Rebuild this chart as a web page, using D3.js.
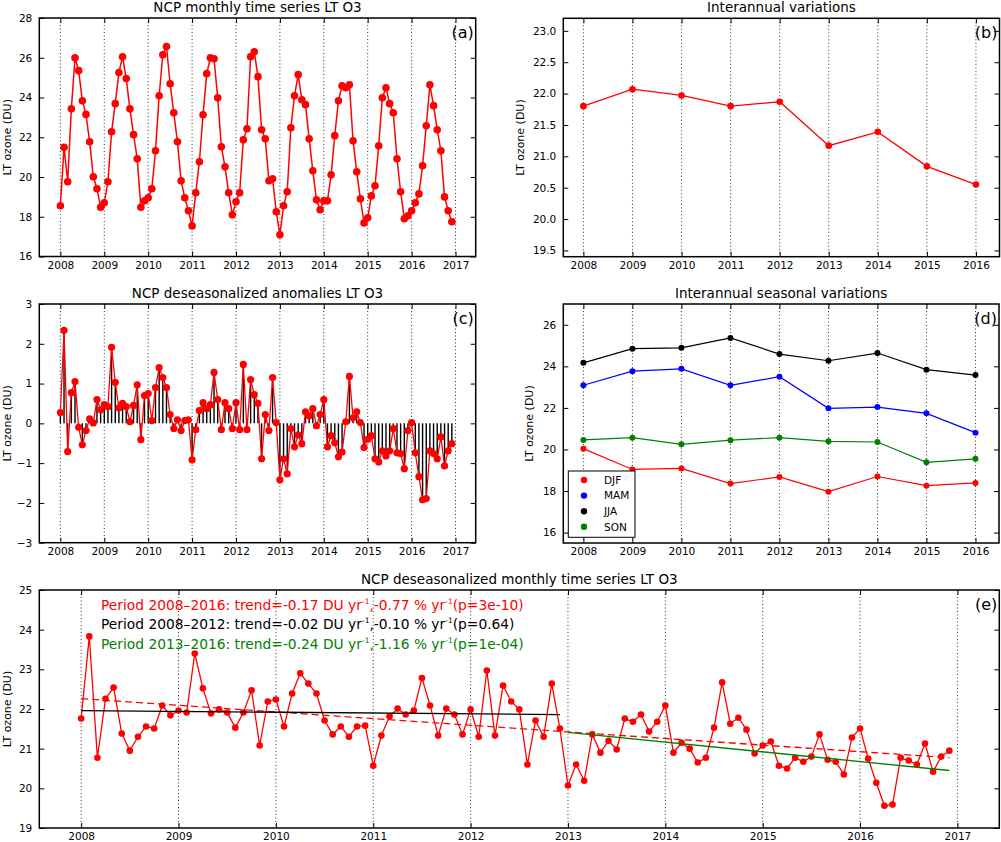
<!DOCTYPE html>
<html>
<head>
	<meta charset="utf-8">
	<title>NCP LT O3</title>
	<style type="text/css">
		html, body {
			margin: 0;
			padding: 0;
			background-color: #fff;
		}
		svg text {
			font-family: "DejaVu Sans", sans-serif;
			fill: #000;
		}
	</style>
</head>
<body>
	<div id="chart"></div>
	<script src="https://unpkg.com/d3@7.8.5/dist/d3.min.js"></script>
	<script type="text/javascript">
		// monthly LT ozone, Jan 2008 .. Dec 2016 (panel a)
		const monthlyLT = [
			18.55, 21.49, 19.76, 23.43, 26.00, 25.35, 23.84, 23.15, 21.77, 20.01, 19.41, 18.48,
			18.70, 19.76, 22.28, 23.69, 25.26, 26.05, 24.95, 23.43, 22.13, 20.92, 18.48, 18.80,
			18.95, 19.41, 21.32, 24.09, 26.15, 26.56, 24.69, 23.23, 21.77, 19.81, 18.95, 18.30,
			17.54, 19.21, 20.77, 23.13, 25.20, 26.00, 25.95, 23.99, 21.52, 20.51, 19.21, 18.10,
			18.75, 19.21, 21.87, 22.43, 26.05, 26.30, 25.05, 22.38, 21.92, 19.81, 19.91, 18.25,
			17.09, 18.55, 19.26, 22.48, 24.09, 25.15, 23.89, 23.64, 21.92, 20.31, 18.85, 18.35,
			18.80, 18.80, 20.11, 22.08, 23.84, 24.59, 24.49, 24.64, 21.82, 20.26, 18.90, 17.69,
			17.95, 19.05, 19.56, 21.57, 23.99, 24.49, 23.69, 23.23, 20.92, 19.26, 17.90, 18.05,
			18.30, 18.70, 19.15, 20.56, 22.58, 24.64, 23.59, 22.38, 21.32, 19.00, 18.30, 17.75
		];

		// deseasonalized anomalies (panel c)
		const anomalyLT = [
			0.27, 2.34, -0.71, 0.77, 1.05, -0.10, -0.54, -0.18, 0.11, 0.01, 0.60, 0.34,
			0.47, 0.42, 1.91, 1.03, 0.39, 0.50, 0.42, 0.04, 0.45, 0.97, -0.41, 0.70,
			0.75, 0.07, 0.90, 1.40, 1.15, 0.90, 0.22, -0.13, 0.09, -0.18, 0.07, 0.09,
			-0.92, -0.16, 0.32, 0.52, 0.37, 0.47, 1.28, 0.60, -0.16, 0.52, 0.37, -0.13,
			0.52, -0.16, 1.48, -0.16, 1.10, 0.72, 0.50, -0.89, 0.22, -0.18, 1.15, 0.02,
			-1.42, -0.89, -1.27, -0.13, -0.59, -0.29, -0.51, 0.29, 0.19, 0.37, -0.06, 0.22,
			0.60, -0.59, -0.31, -0.49, -0.84, -0.72, 0.04, 1.18, 0.14, 0.29, 0.02, -0.61,
			-0.40, -0.31, -0.89, -0.97, -0.69, -0.82, -0.69, -0.13, -0.74, -0.76, -1.14, -0.18,
			0.02, -0.74, -1.34, -1.92, -1.89, -0.69, -0.76, -0.89, -0.34, -1.07, -0.69, -0.51
		];

		// deseasonalized monthly series (panel e)
		const deseasonLT = [
			21.76, 23.83, 20.77, 22.26, 22.54, 21.38, 20.95, 21.30, 21.56, 21.51, 22.09, 21.84,
			21.96, 21.91, 23.40, 22.52, 21.89, 21.99, 21.91, 21.53, 21.91, 22.47, 21.08, 22.19,
			22.24, 21.56, 22.39, 22.90, 22.64, 22.39, 21.71, 21.36, 21.56, 21.30, 21.56, 21.58,
			20.57, 21.33, 21.81, 22.01, 21.86, 21.96, 22.78, 22.09, 21.33, 22.01, 21.86, 21.36,
			21.99, 21.30, 22.97, 21.33, 22.59, 22.19, 21.99, 20.60, 21.71, 21.30, 22.64, 21.51,
			20.07, 20.60, 20.19, 21.36, 20.90, 21.20, 20.98, 21.76, 21.68, 21.86, 21.43, 21.68,
			22.09, 20.90, 21.15, 21.00, 20.65, 20.77, 21.53, 22.67, 21.63, 21.78, 21.48, 20.88,
			21.08, 21.18, 20.57, 20.50, 20.77, 20.67, 20.80, 21.36, 20.72, 20.67, 20.35, 21.28,
			21.51, 20.75, 20.14, 19.56, 19.59, 20.77, 20.70, 20.60, 21.13, 20.42, 20.80, 20.95
		];

		const years = [2008, 2009, 2010, 2011, 2012, 2013, 2014, 2015, 2016];
		const annualLT = [21.80, 22.07, 21.97, 21.80, 21.87, 21.17, 21.39, 20.84, 20.55];

		const seasonNames = ['DJF', 'MAM', 'JJA', 'SON'];
		const seasonColors = ['#ff0000', '#0000ff', '#000000', '#008000'];
		const djfLT = [20.04, 19.04, 19.09, 18.36, 18.68, 17.97, 18.70, 18.26, 18.39];
		const mamLT = [23.09, 23.77, 23.88, 23.09, 23.50, 21.98, 22.04, 21.74, 20.81];
		const jjaLT = [24.17, 24.85, 24.89, 25.37, 24.59, 24.27, 24.64, 23.84, 23.58];
		const sonLT = [20.46, 20.57, 20.25, 20.45, 20.57, 20.39, 20.36, 19.38, 19.55];

		// linear trends in panel e: start/end time and fitted values
		const trendStart = [2008, 2008, 2013];
		const trendEnd = [2016 + 11 / 12, 2012 + 11 / 12, 2016 + 11 / 12];
		const trendStartVal = [22.26, 21.96, 21.41];
		const trendEndVal = [20.77, 21.86, 20.45];
		const trendColors = ['#ff0000', '#000000', '#008000'];
		const trendPeriods = ['2008–2016', '2008–2012', '2013–2016'];
		const trendDU = ['-0.17', '-0.02', '-0.24'];
		const trendPct = ['-0.77', '-0.10', '-1.16'];
		const trendP = ['3e-10', '0.64', '1e-04'];

		const tickYears = d3.range(2008, 2018);
		const tickYearsShort = d3.range(2008, 2017);

		const monthT = monthlyLT.map((_, i) => 2008 + i / 12);

		const svg = d3.select('#chart')
			.append('svg')
			.attr('width', 1001)
			.attr('height', 842);

		function makePanel(c) {
			const g = svg.append('g');
			const x = d3.scaleLinear().domain(c.xd).range([c.l, c.r]);
			const y = d3.scaleLinear().domain(c.yd).range([c.b, c.t]);

			// dotted vertical grid
			g.selectAll('line.grid')
				.data(c.xt)
				.join('line')
				.attr('class', 'grid')
				.attr('x1', d => x(d)).attr('x2', d => x(d))
				.attr('y1', c.t).attr('y2', c.b)
				.attr('stroke', '#000')
				.attr('stroke-width', 0.8)
				.attr('stroke-dasharray', '1,2.5');

			g.append('g')
				.attr('transform', `translate(0,${c.b})`)
				.call(d3.axisBottom(x).tickValues(c.xt).tickFormat(d3.format('d'))
					.tickSizeInner(-5).tickSizeOuter(0).tickPadding(5));
			g.append('g')
				.attr('transform', `translate(0,${c.t})`)
				.call(d3.axisTop(x).tickValues(c.xt).tickFormat('')
					.tickSizeInner(-5).tickSizeOuter(0));
			g.append('g')
				.attr('transform', `translate(${c.l},0)`)
				.call(d3.axisLeft(y).tickValues(c.yt).tickFormat(c.yfmt)
					.tickSizeInner(-5).tickSizeOuter(0).tickPadding(7));
			g.append('g')
				.attr('transform', `translate(${c.r},0)`)
				.call(d3.axisRight(y).tickValues(c.yt).tickFormat('')
					.tickSizeInner(-5).tickSizeOuter(0));

			g.selectAll('.domain').remove();
			g.selectAll('.tick line').attr('stroke', '#000').attr('stroke-width', 1);
			g.selectAll('.tick text')
				.attr('font-family', '"DejaVu Sans", sans-serif')
				.attr('font-size', 10.5)
				.attr('fill', '#000');

			g.append('text')
				.attr('x', (c.l + c.r) / 2)
				.attr('y', c.t - 6)
				.attr('text-anchor', 'middle')
				.attr('font-size', 13.5)
				.text(c.title);

			g.append('text')
				.attr('transform', `translate(${c.labelX},${(c.t + c.b) / 2}) rotate(-90)`)
				.attr('dy', '0.35em')
				.attr('text-anchor', 'middle')
				.attr('font-size', 11)
				.text('LT ozone (DU)');

			const plot = g.append('g');

			// frame and panel tag on top
			const top = g.append('g');
			top.append('rect')
				.attr('x', c.l).attr('y', c.t)
				.attr('width', c.r - c.l).attr('height', c.b - c.t)
				.attr('fill', 'none')
				.attr('stroke', '#000')
				.attr('stroke-width', 1.5);
			top.append('text')
				.attr('x', c.r - 2)
				.attr('y', c.t + 20)
				.attr('text-anchor', 'end')
				.attr('font-size', 16)
				.text(c.tag);

			return { g: plot, x, y };
		}

		function drawSeries(p, xs, ys, color, r, width) {
			const pts = xs.map((t, i) => [t, ys[i]]);
			const line = d3.line().x(d => p.x(d[0])).y(d => p.y(d[1]));
			p.g.append('path')
				.attr('d', line(pts))
				.attr('fill', 'none')
				.attr('stroke', color)
				.attr('stroke-width', width);
			p.g.append('g')
				.selectAll('circle')
				.data(pts)
				.join('circle')
				.attr('cx', d => p.x(d[0]))
				.attr('cy', d => p.y(d[1]))
				.attr('r', r)
				.attr('fill', color);
		}

		// (a) monthly time series
		const pa = makePanel({
			l: 39.3, r: 475.7, t: 18, b: 256.5,
			xd: [2007.52, 2017.46], yd: [16, 28],
			xt: tickYears, yt: d3.range(16, 29, 2), yfmt: d3.format('d'),
			title: 'NCP monthly time series LT O3', tag: '(a)', labelX: 7
		});
		drawSeries(pa, monthT, monthlyLT, '#ff0000', 3.8, 1.5);

		// (b) interannual variations
		const pb = makePanel({
			l: 563.3, r: 999.5, t: 18.3, b: 256.7,
			xd: [2007.59, 2016.48], yd: [19.4, 23.2],
			xt: tickYearsShort, yt: d3.range(19.5, 23.01, 0.5), yfmt: d3.format('.1f'),
			title: 'Interannual variations', tag: '(b)', labelX: 520.5
		});
		drawSeries(pb, years, annualLT, '#ff0000', 3.3, 1.3);

		// (c) deseasonalized anomalies
		const pc = makePanel({
			l: 39.3, r: 475.7, t: 304, b: 542.7,
			xd: [2007.52, 2017.46], yd: [-3, 3],
			xt: tickYears, yt: d3.range(-3, 4, 1), yfmt: d3.format('d'),
			title: 'NCP deseasonalized anomalies LT O3', tag: '(c)', labelX: 7
		});
		pc.g.append('g')
			.selectAll('line')
			.data(anomalyLT)
			.join('line')
			.attr('x1', (d, i) => pc.x(monthT[i]))
			.attr('x2', (d, i) => pc.x(monthT[i]))
			.attr('y1', pc.y(0))
			.attr('y2', d => pc.y(d))
			.attr('stroke', '#000')
			.attr('stroke-width', 1.4);
		drawSeries(pc, monthT, anomalyLT, '#ff0000', 3.6, 1.3);

		// (d) interannual seasonal variations
		const pd = makePanel({
			l: 563.3, r: 999, t: 304, b: 543,
			xd: [2007.59, 2016.48], yd: [15.5, 27],
			xt: tickYearsShort, yt: d3.range(16, 27, 2), yfmt: d3.format('d'),
			title: 'Interannual seasonal variations', tag: '(d)', labelX: 529
		});
		const seasonValues = [djfLT, mamLT, jjaLT, sonLT];
		seasonValues.forEach((vals, k) => drawSeries(pd, years, vals, seasonColors[k], 3, 1.2));

		const legend = pd.g.append('g');
		legend.append('rect')
			.attr('x', 568.3).attr('y', 471)
			.attr('width', 66.7).attr('height', 66.3)
			.attr('fill', '#fff')
			.attr('stroke', '#000')
			.attr('stroke-width', 1);
		seasonNames.forEach((name, k) => {
			const ly = 480 + k * 15.6;
			legend.append('circle')
				.attr('cx', 584).attr('cy', ly)
				.attr('r', 3.2)
				.attr('fill', seasonColors[k]);
			legend.append('text')
				.attr('x', 604).attr('y', ly)
				.attr('dy', '0.36em')
				.attr('font-size', 10.5)
				.text(name);
		});

		// (e) deseasonalized monthly series with trends
		const pe = makePanel({
			l: 39.3, r: 999.3, t: 590, b: 828,
			xd: [2007.57, 2017.43], yd: [19, 25],
			xt: tickYears, yt: d3.range(19, 26, 1), yfmt: d3.format('d'),
			title: 'NCP deseasonalized monthly time series LT O3', tag: '(e)', labelX: 7
		});
		drawSeries(pe, monthT, deseasonLT, '#ff0000', 3.3, 1.3);

		trendStart.forEach((t0, k) => {
			pe.g.append('line')
				.attr('x1', pe.x(t0)).attr('y1', pe.y(trendStartVal[k]))
				.attr('x2', pe.x(trendEnd[k])).attr('y2', pe.y(trendEndVal[k]))
				.attr('stroke', trendColors[k])
				.attr('stroke-width', 1.3)
				.attr('stroke-dasharray', k === 0 ? '7,4' : null);
		});

		trendPeriods.forEach((period, k) => {
			const t = pe.g.append('text')
				.attr('x', 101)
				.attr('y', 609.5 + k * 19.7)
				.attr('font-size', 13.8)
				.style('fill', trendColors[k]);
			t.append('tspan').text(`Period ${period}: trend=${trendDU[k]} DU yr`);
			t.append('tspan').attr('dy', -6).attr('font-size', 7.5).text('-1');
			t.append('tspan').attr('dy', 6).text(`,${trendPct[k]} % yr`);
			t.append('tspan').attr('dy', -6).attr('font-size', 7.5).text('-1');
			t.append('tspan').attr('dy', 6).text(`(p=${trendP[k]})`);
		});
	</script>
</body>
</html>
